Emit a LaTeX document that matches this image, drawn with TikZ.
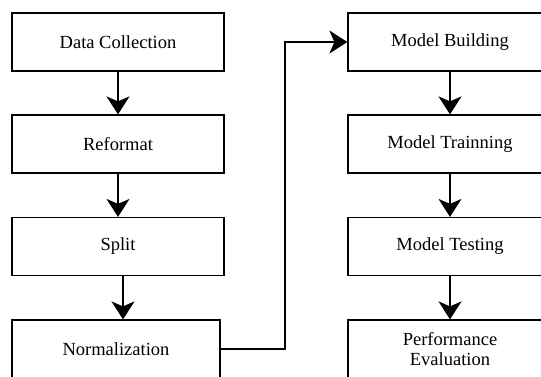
\documentclass[tikz,border=0pt]{standalone}
\usepackage{fontspec}
\setmainfont{Liberation Serif}
\usetikzlibrary{arrows.meta}
\begin{document}
\begin{tikzpicture}[x=1pt,y=-1pt,
  stagebox/.style={draw, line width=1.2pt, minimum width=212pt, minimum height=58pt, inner sep=0pt, font=\fontsize{18.5}{20}\selectfont, align=center, fill=white},
  flow/.style={line width=1.5pt, -{Stealth[length=18pt,width=23pt,inset=5pt]}}]
\useasboundingbox (0,0) rectangle (541,376);
\clip (0,0) rectangle (541,376);
\fill[white] (0,0) rectangle (541,376);
\node[stagebox] (dc) at (118,42) {Data Collection};
\node[stagebox] (rf) at (118,144) {Reformat};
\node[stagebox] (sp) at (118,246.5) {Split};
\node[stagebox, minimum width=208pt] (nm) at (116,349) {Normalization};
\node[stagebox, minimum width=204pt] (mb) at (450,42) {Model Building};
\node[stagebox, minimum width=204pt] (mt) at (450,144) {Model Trainning};
\node[stagebox, minimum width=204pt] (ms) at (450,246.5) {Model Testing};
\node[stagebox, minimum width=204pt] (pe) at (450,349) {Performance\\Evaluation};
\coordinate (turn) at (285,0);
\draw[flow] (dc.south) -- (rf.north);
\draw[flow] (rf.south) -- (sp.north);
\draw[flow] ([xshift=5pt]sp.south) -- ([xshift=7pt]nm.north);
\draw[flow] (nm.east) -- (nm.east -| turn) |- (mb.west);
\draw[flow] (mb.south) -- (mt.north);
\draw[flow] (mt.south) -- (ms.north);
\draw[flow] (ms.south) -- (pe.north);
\end{tikzpicture}
\end{document}
